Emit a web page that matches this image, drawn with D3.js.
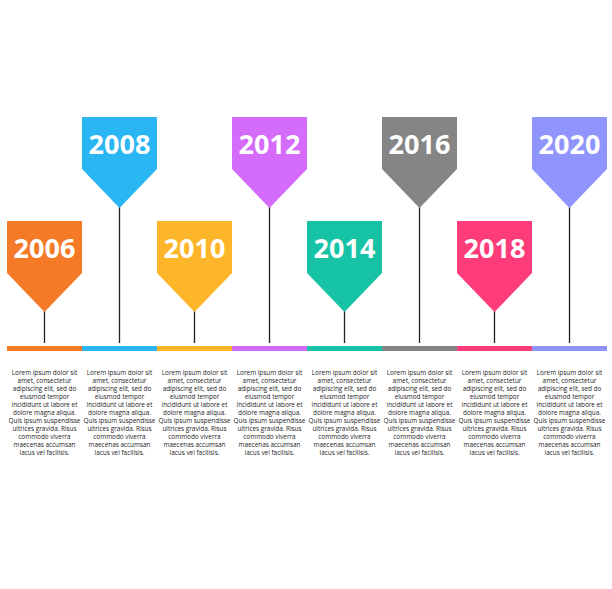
<!DOCTYPE html>
<html><head><meta charset="utf-8">
<script src="https://cdn.jsdelivr.net/npm/d3@7"></script>
<style>body{margin:0;background:#fff}</style>
</head><body>
<script>
const years = ["2006","2008","2010","2012","2014","2016","2018","2020"];
const colors = ["#f47a28","#29b6f2","#fdb62a","#d46bfa","#16c4a5","#858585","#fd3c79","#8f95fc"];
const levels = [0,1,0,1,0,1,0,1]; // 0 = low pennant, 1 = high pennant
const blurb = ["Lorem ipsum dolor sit","amet, consectetur","adipiscing elit, sed do","eiusmod tempor","incididunt ut labore et","dolore magna aliqua.","Quis ipsum suspendisse","ultrices gravida. Risus","commodo viverra","maecenas accumsan","lacus vel facilisis."];

const width = 612, height = 589;
const svg = d3.select("body").append("svg").attr("width", width).attr("height", height);

const x = d3.scaleBand().domain(years).range([7, 607]);
const bw = x.bandwidth();
const barY = 346;
const topY = {0: 221, 1: 117};

const g = svg.selectAll("g.item").data(years).enter().append("g")
    .attr("transform", d => `translate(${x(d)},0)`);

// stem
g.append("line")
    .attr("x1", bw/2).attr("x2", bw/2)
    .attr("y1", (d,i) => topY[levels[i]] + 90).attr("y2", barY - 3)
    .attr("stroke", "#222").attr("stroke-width", 1.3);

// pennant
g.append("path")
    .attr("d", (d,i) => { const t = topY[levels[i]];
        return `M0,${t}H${bw}V${t+52}L${bw/2},${t+91}L0,${t+52}Z`; })
    .attr("fill", (d,i) => colors[i]);

g.append("text")
    .attr("x", bw/2).attr("y", (d,i) => topY[levels[i]] + 37)
    .attr("text-anchor", "middle").attr("fill", "#fff")
    .attr("font-family", "Open Sans, sans-serif").attr("font-weight", "bold")
    .attr("font-size", 27).text(d => d);

// timeline bar
g.append("rect").attr("x", 0).attr("y", barY).attr("width", bw).attr("height", 5)
    .attr("fill", (d,i) => colors[i]);

// description
const t = g.append("text").attr("text-anchor", "middle")
    .attr("font-family", "Open Sans, sans-serif").attr("font-size", 6.4).attr("fill", "#222");
t.selectAll("tspan").data(blurb).enter().append("tspan")
    .attr("x", bw/2).attr("y", (d,i) => 375 + i*8).text(d => d);
</script>
</body></html>
